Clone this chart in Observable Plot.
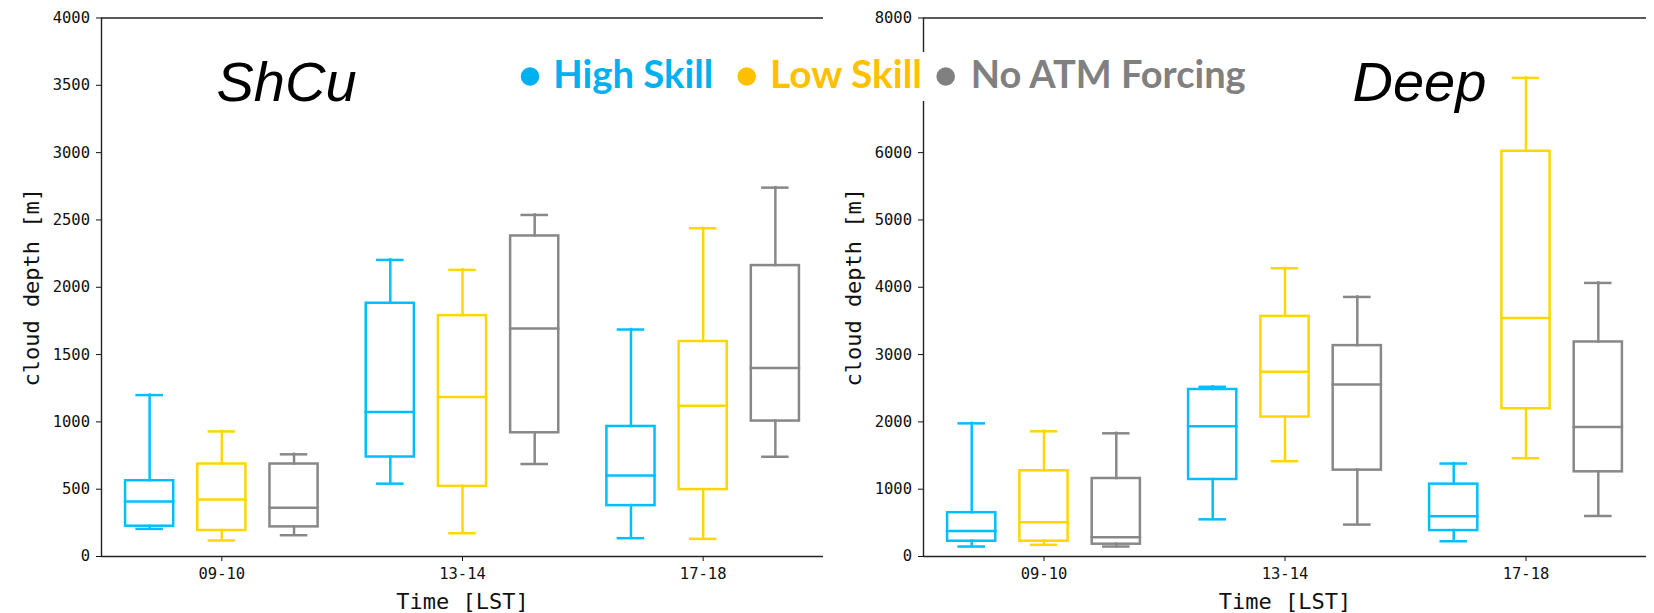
<!DOCTYPE html>
<html>
<head>
<meta charset="utf-8">
<script src="https://cdn.jsdelivr.net/npm/d3@7"></script>
<script src="https://cdn.jsdelivr.net/npm/@observablehq/plot@0.6"></script>
<style>
  html, body { margin: 0; padding: 0; background: #fff; }
  #fig { position: relative; width: 1654px; height: 613px; overflow: hidden; }
  #fig > svg { position: absolute; top: 0; }
</style>
</head>
<body>
<div id="fig"></div>
<script>
// Time windows and experiment groups
const periods = ["09-10", "13-14", "17-18"];
const groups = ["High Skill", "Low Skill", "No ATM Forcing"];
const boxColors = ["#00bfff", "#ffd700", "#888888"];
const legendColors = ["#00b0f0", "#ffc000", "#808080"];

// Box statistics per period: [lower whisker, Q1, median, Q3, upper whisker] (m)
const shcuHigh = [[205, 225, 408, 563, 1199], [541, 739, 1073, 1881, 2203], [136, 378, 601, 966, 1686]];
const shcuLow  = [[119, 193, 423, 687, 929],  [173, 521, 1184, 1789, 2129], [131, 497, 1120, 1597, 2438]];
const shcuNone = [[158, 220, 363, 687, 759],  [687, 919, 1693, 2381, 2537], [741, 1006, 1401, 2161, 2740]];

const deepHigh = [[148, 227, 380, 651, 1978], [552, 1144, 1934, 2481, 2521], [227, 385, 597, 1075, 1381]];
const deepLow  = [[173, 227, 508, 1273, 1860], [1416, 2072, 2743, 3567, 4282], [1460, 2195, 3542, 6020, 7110]];
const deepNone = [[148, 183, 286, 1159, 1830], [474, 1283, 2555, 3133, 3856], [602, 1258, 1924, 3187, 4064]];

// y ticks; the 7000 m tick of the Deep panel sits under the legend band, so it is left out
const shcuTicks = [0, 500, 1000, 1500, 2000, 2500, 3000, 3500, 4000];
const deepTicks = [0, 1000, 2000, 3000, 4000, 5000, 6000, 8000];
const shcuMax = 4000;
const deepMax = 8000;

// layout of the grouped boxes along the categorical axis
const xDomain = [-0.5, 2.5];
const groupOffset = [-0.3, 0, 0.3];
const boxHalf = 0.1;
const capHalf = 0.052;

function toRows(sets) {
  const rows = [];
  sets.forEach((set, g) => {
    set.forEach(([lo, q1, med, q3, hi], p) => {
      rows.push({period: periods[p], group: groups[g], x: p + groupOffset[g], lo, q1, med, q3, hi, color: boxColors[g]});
    });
  });
  return rows;
}

function panel({sets, yTicks, yMax, title, titleDx, marginLeft, marginRight, left}) {
  const rows = toRows(sets);
  const line = {stroke: "color", strokeWidth: 2.5, strokeLinecap: "square"};
  const svg = Plot.plot({
    width: 827,
    height: 613,
    marginLeft,
    marginRight,
    marginTop: 17.5,
    marginBottom: 57,
    style: {fontFamily: "DejaVu Sans Mono", fontSize: "15.5px", color: "#111", background: "white"},
    x: {type: "linear", domain: xDomain},
    y: {domain: [0, yMax]},
    color: {type: "identity"},
    marks: [
      Plot.axisX({ticks: [0, 1, 2], tickFormat: i => periods[i], tickSize: 5, tickPadding: 6.5,
        label: "Time [LST]", labelAnchor: "center", labelOffset: 52, labelArrow: "none"}),
      Plot.axisY({ticks: yTicks, tickFormat: d => String(d), tickSize: 5, tickPadding: 6.5,
        label: "cloud depth [m]", labelAnchor: "center", labelOffset: 78, labelArrow: "none"}),
      // spines: left, bottom and top
      Plot.ruleX([xDomain[0]], {stroke: "#222", strokeWidth: 1.4}),
      Plot.ruleY([0], {stroke: "#222", strokeWidth: 1.4}),
      Plot.ruleY([yMax], {stroke: "#222", strokeWidth: 1.4}),
      // whiskers
      Plot.ruleX(rows, {x: "x", y1: "lo", y2: "q1", ...line}),
      Plot.ruleX(rows, {x: "x", y1: "q3", y2: "hi", ...line}),
      Plot.ruleY(rows, {y: "lo", x1: d => d.x - capHalf, x2: d => d.x + capHalf, ...line}),
      Plot.ruleY(rows, {y: "hi", x1: d => d.x - capHalf, x2: d => d.x + capHalf, ...line}),
      // boxes and medians
      Plot.rect(rows, {x1: d => d.x - boxHalf, x2: d => d.x + boxHalf, y1: "q1", y2: "q3", fill: "none", stroke: "color", strokeWidth: 2.5}),
      Plot.ruleY(rows, {y: "med", x1: d => d.x - boxHalf, x2: d => d.x + boxHalf, ...line}),
      // panel title
      Plot.text([title], {text: d => d, frameAnchor: "top-left", dx: titleDx, dy: 82.5, textAnchor: "start",
        lineAnchor: "bottom", fontSize: 56, fontStyle: "italic", fontFamily: "Liberation Sans", fill: "black"})
    ]
  });
  svg.style.left = left + "px";
  d3.select(svg).selectAll('[aria-label="x-axis label"] text, [aria-label="y-axis label"] text')
    .style("font-size", "22px");
  return svg;
}

const fig = document.getElementById("fig");
fig.appendChild(panel({sets: [shcuHigh, shcuLow, shcuNone], yTicks: shcuTicks, yMax: shcuMax, title: "ShCu",
  titleDx: 115, marginLeft: 101, marginRight: 4, left: 0}));
fig.appendChild(panel({sets: [deepHigh, deepLow, deepNone], yTicks: deepTicks, yMax: deepMax, title: "Deep",
  titleDx: 429, marginLeft: 96, marginRight: 8, left: 827}));

// shared legend across both panels, on a white band
const legend = d3.select(fig).append("svg")
  .attr("width", 1654).attr("height", 613)
  .style("position", "absolute").style("left", "0px").style("top", "0px")
  .style("pointer-events", "none");
legend.append("rect").attr("x", 512).attr("y", 52).attr("width", 745).attr("height", 49).attr("fill", "white");
const dotX = [530, 746.7, 945.7];
const textX = [553.3, 770, 970.7];
const textW = [160, 152, 275];
groups.forEach((g, i) => {
  legend.append("circle").attr("cx", dotX[i]).attr("cy", 76.5).attr("r", 9.3).attr("fill", legendColors[i]);
  legend.append("text").attr("x", textX[i]).attr("y", 88.3)
    .attr("font-family", "Lato, 'Open Sans', sans-serif").attr("font-weight", 700).attr("font-size", 37.5)
    .attr("textLength", textW[i]).attr("lengthAdjust", "spacingAndGlyphs")
    .attr("fill", legendColors[i]).text(g);
});
</script>
</body>
</html>
